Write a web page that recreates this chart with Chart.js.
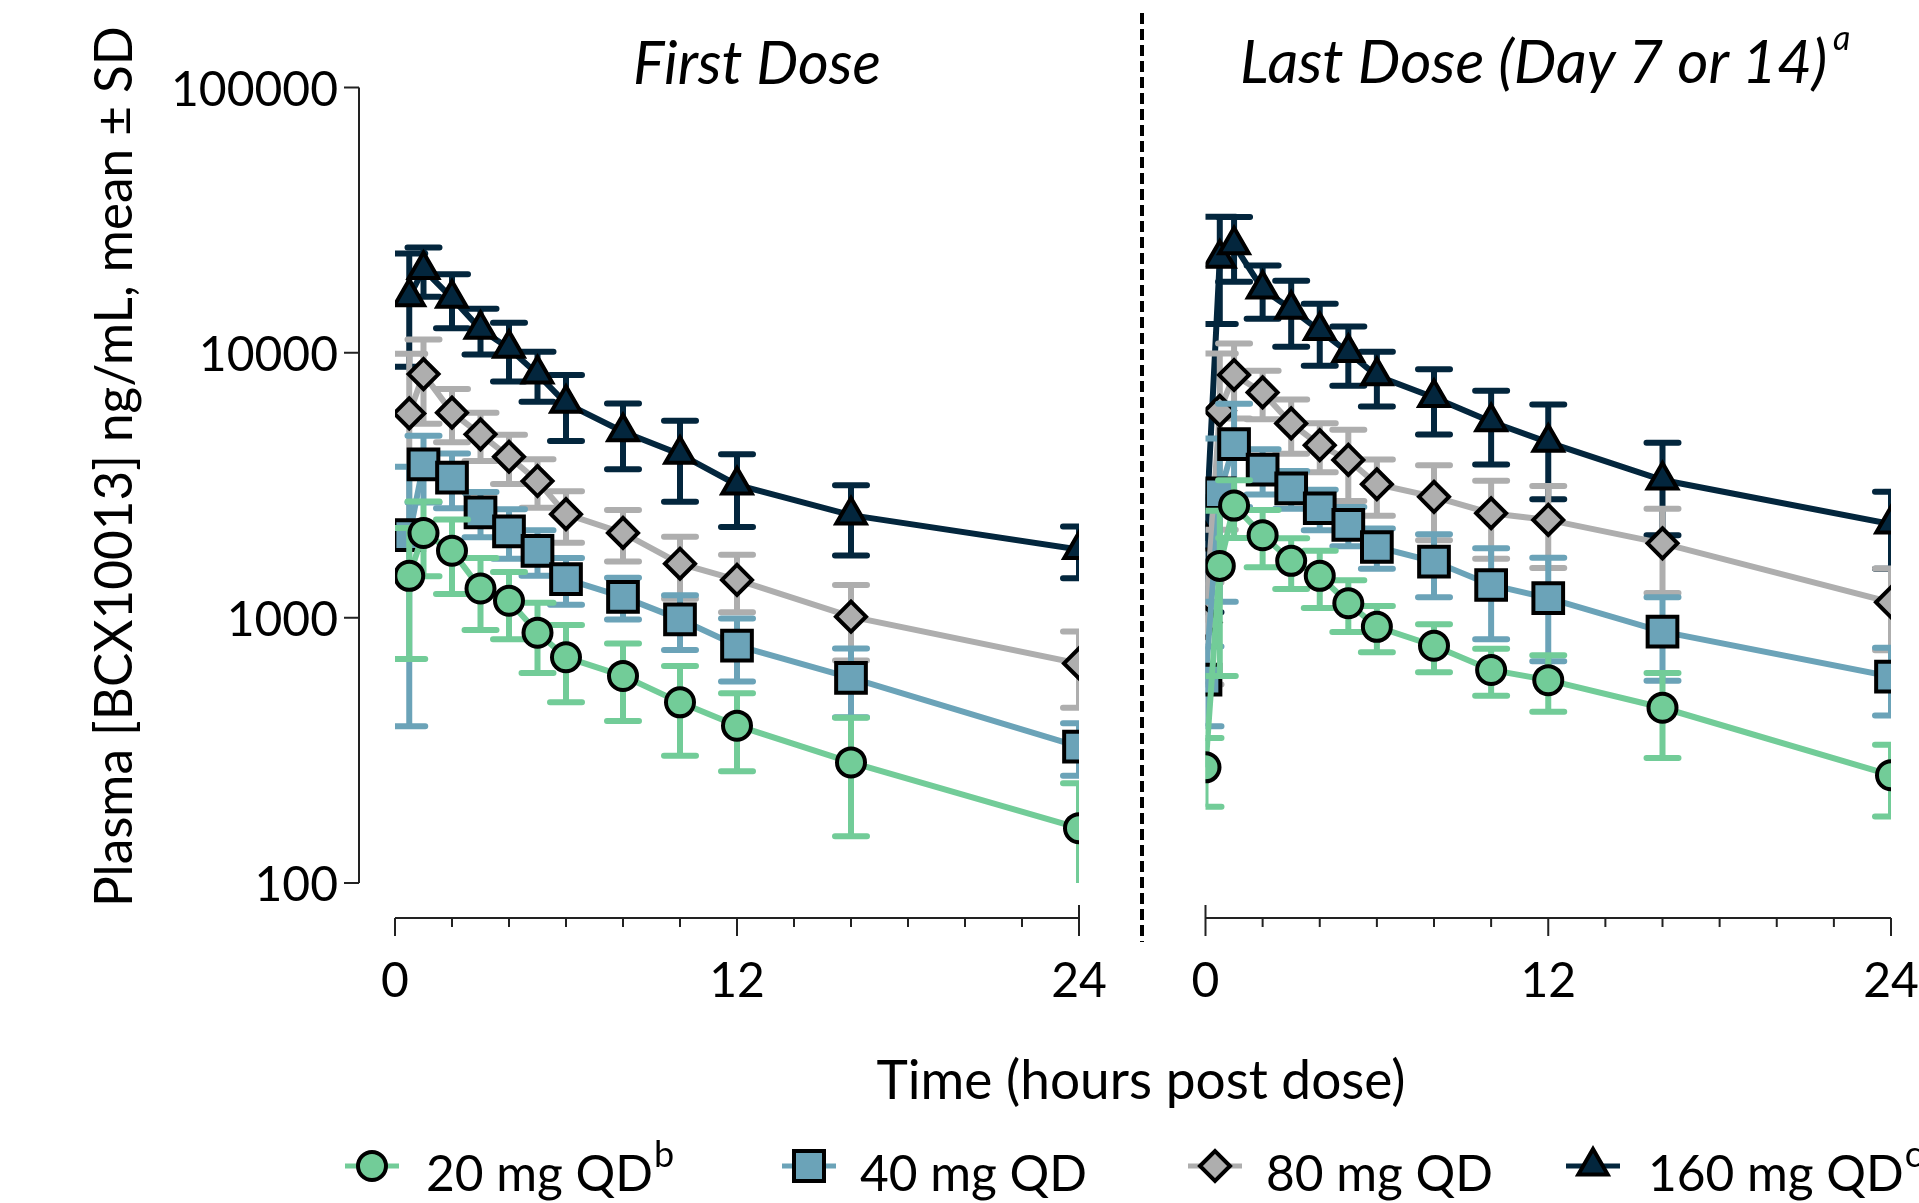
<!DOCTYPE html>
<html>
<head>
<meta charset="utf-8">
<script src="https://cdn.jsdelivr.net/npm/chart.js@4.4.1/dist/chart.umd.min.js"></script>
<style>
html, body { margin: 0; padding: 0; background: #fff; width: 1919px; height: 1203px; overflow: hidden; }
#stage { position: relative; width: 1919px; height: 1203px; overflow: hidden; color: #000; }
#stage canvas { position: absolute; top: 0; }
.txt { position: absolute; white-space: nowrap; margin: 0; padding: 0; }
</style>
</head>
<body>
<div id="stage">
  <canvas id="firstDose" width="1200" height="1000" style="left:0px"></canvas>
  <canvas id="lastDose" width="900" height="1000" style="left:1100px"></canvas>
  <svg width="1919" height="1203" style="position:absolute;left:0;top:0;pointer-events:none">
    <line x1="1142" y1="13" x2="1142" y2="942" stroke="#000" stroke-width="4" stroke-dasharray="11 5"></line>
  </svg>
</div>
<script>
// sampling times (hours post dose)
const timesFirst = [0.5, 1, 2, 3, 4, 5, 6, 8, 10, 12, 16, 24];
const timesLast = [0, 0.5, 1, 2, 3, 4, 5, 6, 8, 10, 12, 16, 24];

// first dose, mean and SD (ng/mL)
const first20Mean = [1440, 2090, 1790, 1290, 1160, 879, 710, 604, 480, 392, 285, 161];
const first20Sd = [740, 655, 560, 390, 330, 260, 230, 196, 178, 128, 135, 77];
const first40Mean = [2050, 3790, 3380, 2500, 2120, 1790, 1400, 1200, 987, 785, 594, 327];
const first40Sd = [1660, 1070, 790, 485, 450, 350, 280, 215, 230, 210, 172, 73];
const first80Mean = [5900, 8300, 5940, 4920, 4050, 3280, 2460, 2090, 1600, 1390, 1010, 673];
const first80Sd = [4000, 2900, 1350, 1020, 850, 680, 540, 460, 420, 340, 320, 215];
const first160Mean = [16250, 20600, 16050, 12250, 10380, 8300, 6440, 5030, 4140, 3170, 2440, 1810];
const first160Sd = [7400, 4350, 3700, 2400, 2600, 1770, 1800, 1400, 1400, 970, 720, 400];

// last dose (day 7 or 14), mean and SD (ng/mL)
const last20Mean = [273, 1570, 2650, 2050, 1640, 1440, 1135, 925, 785, 636, 582, 458, 255];
const last20Sd = [79, 966, 650, 500, 355, 350, 250, 183, 161, 128, 140, 162, 77];
const last40Mean = [585, 2950, 4520, 3620, 3080, 2590, 2240, 1850, 1630, 1330, 1186, 887, 600];
const last40Sd = [195, 1800, 1900, 700, 500, 450, 380, 320, 435, 500, 500, 308, 172];
const last80Mean = [960, 6040, 8240, 7080, 5410, 4480, 3940, 3190, 2860, 2480, 2340, 1910, 1145];
const last80Sd = [400, 3890, 2600, 1470, 1250, 940, 1180, 765, 900, 810, 800, 670, 390];
const last160Mean = [1950, 22700, 25500, 17380, 14590, 12110, 10020, 8180, 6780, 5490, 4590, 3310, 2260];
const last160Sd = [900, 9870, 7000, 3960, 4070, 3180, 2520, 1910, 1870, 1700, 1790, 1260, 730];

const doseLabels = ['20 mg QD', '40 mg QD', '80 mg QD', '160 mg QD'];
const doseNotes = ['b', '', '', 'c'];
const yTicks = [100, 1000, 10000, 100000];
const xTicks = [0, 12, 24];

const FONT = 'Lato, "Open Sans", sans-serif';
const COLORS = ['#72CC98', '#6BA3B8', '#AEAEAE', '#03263D'];
const MARKERS = ['circle', 'rect', 'rectRot', 'triangle'];
const RADII = [14, 21, 15, 17];

const stage = document.getElementById('stage');

// error bars drawn just before each dataset so the series stack like the original
const errorBars = {
    id: 'errorBars',
    beforeDatasetDraw(chart, args) {
        const ds = chart.data.datasets[args.index];
        if (!ds.sd) return;
        const { ctx, chartArea: a } = chart;
        const x = chart.scales.x, y = chart.scales.y;
        ctx.save();
        ctx.beginPath();
        ctx.rect(a.left, a.top, a.right - a.left, a.bottom - a.top);
        ctx.clip();
        ctx.strokeStyle = ds.borderColor;
        ctx.lineWidth = 6;
        ds.data.forEach((p, i) => {
            const px = x.getPixelForValue(p.x);
            const hi = y.getPixelForValue(p.y + ds.sd[i]);
            const hasLow = p.y - ds.sd[i] > 0;
            const lo = hasLow ? y.getPixelForValue(p.y - ds.sd[i]) : a.bottom + 40;
            ctx.lineCap = 'butt';
            ctx.beginPath();
            ctx.moveTo(px, hi);
            ctx.lineTo(px, lo);
            ctx.stroke();
            ctx.lineCap = 'round';
            ctx.beginPath();
            ctx.moveTo(px - 16, hi);
            ctx.lineTo(px + 16, hi);
            if (hasLow) {
                ctx.moveTo(px - 16, lo);
                ctx.lineTo(px + 16, lo);
            }
            ctx.stroke();
        });
        ctx.restore();
    }
};

// detached axis lines (prism style)
const axisLines = {
    id: 'axisLines',
    afterDraw(chart, args, opts) {
        const { ctx, chartArea: a } = chart;
        const x = chart.scales.x, y = chart.scales.y;
        const ay = a.bottom + 35;
        ctx.save();
        ctx.strokeStyle = '#222';
        ctx.lineWidth = 2;
        ctx.beginPath();
        ctx.moveTo(x.getPixelForValue(0), ay);
        ctx.lineTo(x.getPixelForValue(24), ay);
        for (let t = 0; t <= 24; t += 2) {
            const px = x.getPixelForValue(t);
            ctx.moveTo(px, ay);
            ctx.lineTo(px, ay + (t % 12 === 0 ? 18 : 9));
        }
        if (opts.breakAt !== undefined) {
            const px = x.getPixelForValue(opts.breakAt);
            ctx.moveTo(px, ay - 13);
            ctx.lineTo(px, ay);
        }
        if (opts.yAxis) {
            const ax = a.left - 36;
            ctx.moveTo(ax, y.getPixelForValue(yTicks[yTicks.length - 1]));
            ctx.lineTo(ax, y.getPixelForValue(yTicks[0]));
            yTicks.forEach(v => {
                const py = y.getPixelForValue(v);
                ctx.moveTo(ax - 15, py);
                ctx.lineTo(ax, py);
            });
        }
        ctx.stroke();
        ctx.restore();
    }
};

function makeDatasets(times, means, sds) {
    return means.map((m, k) => ({
        label: doseLabels[k],
        data: times.map((t, i) => ({ x: t, y: m[i] })),
        sd: sds[k],
        borderColor: COLORS[k],
        backgroundColor: COLORS[k],
        borderWidth: 6,
        pointStyle: MARKERS[k],
        pointRadius: RADII[k],
        pointHoverRadius: RADII[k],
        pointBorderWidth: 4,
        pointBorderColor: '#000',
        pointBackgroundColor: COLORS[k],
        tension: 0,
        fill: false,
        clip: 0
    }));
}

function makePanel(canvasId, datasets, cfg) {
    const canvas = document.getElementById(canvasId);
    return new Chart(canvas.getContext('2d'), {
        type: 'line',
        data: { datasets: datasets },
        plugins: [errorBars, axisLines],
        options: {
            responsive: false,
            animation: false,
            events: [],
            layout: { padding: cfg.padding },
            plugins: {
                legend: { display: false },
                tooltip: { enabled: false },
                axisLines: { yAxis: cfg.showY, breakAt: cfg.breakAt }
            },
            scales: {
                x: {
                    type: 'linear',
                    min: 0,
                    max: 24,
                    grid: { display: false, drawTicks: false },
                    border: { display: false },
                    afterBuildTicks: s => { s.ticks = xTicks.map(v => ({ value: v })); },
                    afterFit: s => { s.height = canvas.height - 883; },
                    ticks: {
                        padding: 70,
                        maxRotation: 0,
                        autoSkip: false,
                        color: '#000',
                        font: { family: FONT, size: 48 },
                        callback: v => String(v)
                    }
                },
                y: {
                    type: 'logarithmic',
                    display: cfg.showY,
                    min: 100,
                    max: 100000,
                    grid: { display: false, drawTicks: false },
                    border: { display: false },
                    afterBuildTicks: s => { s.ticks = yTicks.map(v => ({ value: v })); },
                    afterFit: s => { if (cfg.showY) s.width = 395; },
                    ticks: {
                        padding: 57,
                        labelOffset: 3,
                        color: '#000',
                        font: { family: FONT, size: 48 },
                        callback: v => String(v)
                    }
                }
            }
        }
    });
}

// text helpers
const mctx = document.createElement('canvas').getContext('2d');
function measure(text, size, italic) {
    mctx.font = (italic ? 'italic ' : '') + size + 'px ' + FONT;
    const m = mctx.measureText(text);
    return { w: m.width, asc: m.fontBoundingBoxAscent, desc: m.fontBoundingBoxDescent };
}
function fitSize(text, target, italic) {
    return 100 * target / measure(text, 100, italic).w;
}
function addText(text, o) {
    const el = document.createElement('div');
    el.className = 'txt';
    el.textContent = text;
    el.style.font = (o.italic ? 'italic ' : '') + o.size + 'px ' + FONT;
    el.style.lineHeight = o.size + 'px';
    const m = measure(text, o.size, o.italic);
    const b = (o.size - (m.asc + m.desc)) / 2 + m.asc;
    if (o.rotate) {
        const cx = o.x - (b - o.size / 2);
        el.style.width = m.w + 'px';
        el.style.left = (cx - m.w / 2) + 'px';
        el.style.top = (o.baseline - o.size / 2) + 'px';
        el.style.transform = 'rotate(-90deg)';
        el.style.transformOrigin = '50% 50%';
    } else {
        const left = o.align === 'center' ? o.x - m.w / 2 : o.x;
        el.style.left = left + 'px';
        el.style.top = (o.baseline - b) + 'px';
    }
    stage.appendChild(el);
    return m;
}

function legendIcon(k, cx, cy) {
    const ns = 'http://www.w3.org/2000/svg';
    const svg = document.createElementNS(ns, 'svg');
    svg.setAttribute('width', 70);
    svg.setAttribute('height', 50);
    svg.style.position = 'absolute';
    svg.style.left = (cx - 35) + 'px';
    svg.style.top = (cy - 25) + 'px';
    const line = document.createElementNS(ns, 'line');
    line.setAttribute('x1', 8); line.setAttribute('x2', 62);
    line.setAttribute('y1', 25); line.setAttribute('y2', 25);
    line.setAttribute('stroke', COLORS[k]); line.setAttribute('stroke-width', 5);
    svg.appendChild(line);
    let shape;
    if (MARKERS[k] === 'circle') {
        shape = document.createElementNS(ns, 'circle');
        shape.setAttribute('cx', 35); shape.setAttribute('cy', 25); shape.setAttribute('r', 14);
    } else if (MARKERS[k] === 'rect') {
        shape = document.createElementNS(ns, 'rect');
        shape.setAttribute('x', 20); shape.setAttribute('y', 10);
        shape.setAttribute('width', 30); shape.setAttribute('height', 30);
    } else if (MARKERS[k] === 'rectRot') {
        shape = document.createElementNS(ns, 'polygon');
        shape.setAttribute('points', '20,25 35,10 50,25 35,40');
    } else {
        shape = document.createElementNS(ns, 'polygon');
        shape.setAttribute('points', '35,8 49.7,33.5 20.3,33.5');
    }
    shape.setAttribute('fill', COLORS[k]);
    shape.setAttribute('stroke', '#000');
    shape.setAttribute('stroke-width', 4);
    svg.appendChild(shape);
    stage.appendChild(svg);
}

function build() {
    makePanel('firstDose',
        makeDatasets(timesFirst, [first20Mean, first40Mean, first80Mean, first160Mean],
            [first20Sd, first40Sd, first80Sd, first160Sd]),
        { padding: { top: 87.5, left: 0, right: 121, bottom: 0 }, showY: true, breakAt: 24 });
    makePanel('lastDose',
        makeDatasets(timesLast, [last20Mean, last40Mean, last80Mean, last160Mean],
            [last20Sd, last40Sd, last80Sd, last160Sd]),
        { padding: { top: 87.5, left: 105.5, right: 109, bottom: 0 }, showY: false, breakAt: 0 });

    const yTitle = 'Plasma [BCX10013] ng/mL, mean \u00B1 SD';
    addText(yTitle, { size: fitSize(yTitle, 881), x: 132, baseline: 467, rotate: true });

    addText('First Dose', { size: fitSize('First Dose', 248, true), italic: true, x: 757, baseline: 85, align: 'center' });
    const lastTitle = 'Last Dose (Day 7 or 14)';
    addText(lastTitle, { size: fitSize(lastTitle, 590, true), italic: true, x: 1240, baseline: 83 });
    addText('a', { size: 34, italic: true, x: 1833, baseline: 50 });

    const xTitle = 'Time (hours post dose)';
    addText(xTitle, { size: fitSize(xTitle, 529), x: 1141, baseline: 1100, align: 'center' });

    const legSize = fitSize(doseLabels[1], 227);
    const legIcons = [372, 809, 1215, 1593];
    const legText = [426, 860, 1266, 1648];
    doseLabels.forEach((lab, k) => {
        legendIcon(k, legIcons[k], 1166);
        const m = addText(lab, { size: legSize, x: legText[k], baseline: 1192 });
        if (doseNotes[k]) addText(doseNotes[k], { size: 36, x: legText[k] + m.w + 1, baseline: 1167 });
    });
}

Promise.all([
    document.fonts.load('48px Lato'),
    document.fonts.load('italic 48px Lato')
]).catch(() => {}).then(build);
</script>
</body>
</html>
